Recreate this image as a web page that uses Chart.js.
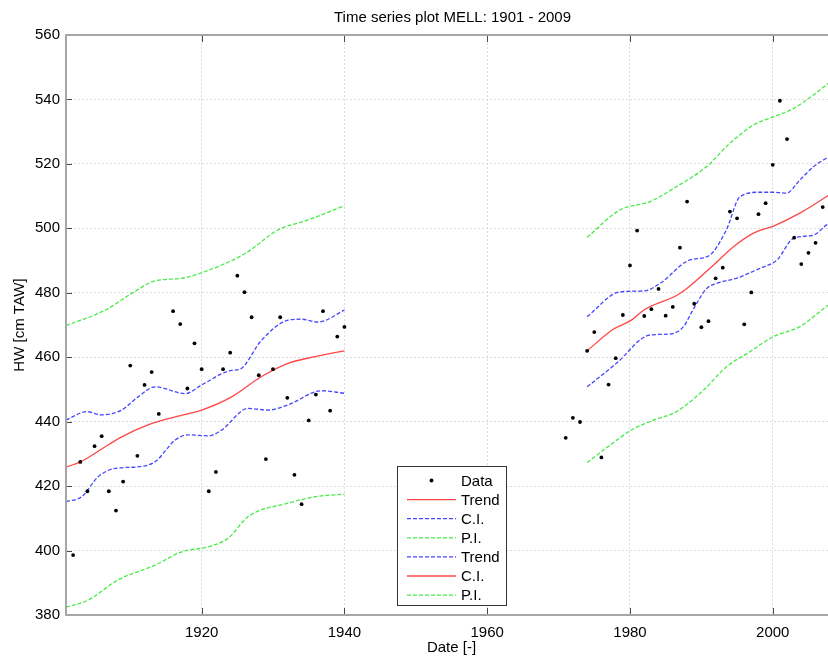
<!DOCTYPE html>
<html>
<head>
<meta charset="utf-8">
<script src="https://cdn.jsdelivr.net/npm/chart.js@4/dist/chart.umd.min.js"></script>
<style>
html, body { margin: 0; padding: 0; overflow: hidden; background: #fff; }
#wrap { width: 850px; height: 657px; }
</style>
</head>
<body>
<div id="wrap"><canvas id="c" width="850" height="657"></canvas></div>
<script>
// Yearly high-water observations (cm TAW)
const obsYears = [
  1902, 1903, 1904, 1905, 1906, 1907, 1908, 1909, 1910, 1911, 1912, 1913, 1914,
  1916, 1917, 1918, 1919, 1920, 1921, 1922, 1923, 1924, 1925, 1926, 1927, 1928,
  1929, 1930, 1931, 1932, 1933, 1934, 1935, 1936, 1937, 1938, 1939, 1940,
  1971, 1972, 1973, 1974, 1975, 1976, 1977, 1978, 1979, 1980, 1981, 1982, 1983,
  1984, 1985, 1986, 1987, 1988, 1989, 1990, 1991, 1992, 1993, 1994, 1995, 1996,
  1997, 1998, 1999, 2000, 2001, 2002, 2003, 2004, 2005, 2006, 2007
];
const obsValues = [
  398.6, 427.5, 418.4, 432.4, 435.5, 418.4, 412.4, 421.4, 457.4, 429.4, 451.4, 455.4, 442.4,
  474.3, 470.3, 450.3, 464.3, 456.3, 418.4, 424.4, 456.3, 461.4, 485.3, 480.2, 472.4, 454.4,
  428.4, 456.3, 472.4, 447.4, 423.5, 414.4, 440.4, 448.4, 474.3, 443.4, 466.4, 469.4,
  435.0, 441.2, 439.9, 462.0, 467.8, 428.9, 451.5, 459.7, 473.1, 488.5, 499.3, 472.8, 474.9,
  481.2, 472.9, 475.6, 494.0, 508.3, 476.6, 469.3, 471.2, 484.5, 487.8, 505.2, 503.1, 470.2,
  480.1, 504.4, 507.8, 519.7, 539.6, 527.7, 497.1, 488.9, 492.4, 495.5, 506.6
];

// Smoothed trend with confidence (C.I.) and prediction (P.I.) bands, [year, value]
const trendEarly = [[1901,425.9],[1903,427.5],[1905.5,430.8],[1908.8,435.3],[1912.5,439.0],[1916.3,441.5],[1920,443.6],[1924.2,447.7],[1928.4,454.0],[1932.1,458.1],[1935.9,460.2],[1940,462.0]];
const ciUpperEarly = [[1901,440.5],[1903.9,443.1],[1906,442.1],[1908.8,443.6],[1911.1,447.7],[1913.5,450.8],[1917.7,448.7],[1920,451.4],[1924.2,455.9],[1925.3,456.2],[1928.4,465.3],[1932.1,471.5],[1934,471.8],[1936.3,470.9],[1940,474.6]];
const ciLowerEarly = [[1901,415.2],[1903.2,416.7],[1905.5,422.9],[1907.9,425.5],[1911.1,426.0],[1913.5,427.6],[1916.3,434.3],[1918.1,435.9],[1921,435.6],[1922.8,437.4],[1926.5,444.1],[1929.3,443.6],[1932.1,445.2],[1936.8,449.6],[1940,448.8]];
const piUpperEarly = [[1901,469.8],[1906.5,474.6],[1910.2,479.8],[1913.5,483.7],[1917.2,484.5],[1920,486.2],[1926.1,492.2],[1930.7,499.5],[1934.9,502.6],[1940,507.0]];
const piLowerEarly = [[1901,382.4],[1904.1,384.6],[1908.3,390.9],[1913.5,395.5],[1917.2,399.6],[1921,401.2],[1923.7,403.8],[1926.5,410.5],[1932.1,414.7],[1935.9,416.7],[1940,417.5]];

const trendLate = [[1974,462.0],[1977.6,468.6],[1980.2,471.5],[1981.9,474.6],[1987,479.8],[1991.2,487.6],[1994.5,494.3],[1997.3,498.5],[2000.1,500.7],[2003.8,504.7],[2007.5,509.8],[2009,512.0]];
const ciUpperLate = [[1974,472.6],[1978.6,480.3],[1982.1,480.6],[1984.2,482.9],[1988.4,490.2],[1991,491.4],[1993.5,499.5],[1995.4,509.8],[1998.2,511.2],[2000.1,511.2],[2001.9,510.9],[2003.8,515.0],[2005.7,519.1],[2007.5,521.7],[2009,523.0]];
const ciLowerLate = [[1974,450.8],[1978.1,458.1],[1982.8,466.9],[1985.6,467.2],[1987.5,469.5],[1988.8,474.6],[1990.7,481.2],[1992.1,482.9],[1994.9,484.5],[1998.2,487.6],[2000.6,490.2],[2002.9,496.9],[2005.7,497.9],[2007.5,501.0],[2009,503.0]];
const piUpperLate = [[1974,497.2],[1978.6,505.7],[1982.8,508.3],[1986.5,512.9],[1990.7,519.1],[1994,526.4],[1997.3,532.1],[2000.1,534.6],[2002.9,537.2],[2005.7,541.4],[2007.5,544.5],[2009,547.0]];
const piLowerLate = [[1974,427.3],[1977.2,432.7],[1980.2,437.4],[1983.3,440.5],[1986.5,443.1],[1990.3,449.8],[1993.5,457.0],[1996.8,461.7],[2000.1,466.4],[2003.8,469.5],[2007.5,475.7],[2009,478.0]];

const xTickValues = [1920, 1940, 1960, 1980, 2000];
const legendLabels = ['Data', 'Trend', 'C.I.', 'P.I.', 'Trend', 'C.I.', 'P.I.'];

const RED = 'rgb(255,70,70)';
const BLUE = 'rgb(70,70,255)';
const GREEN = 'rgb(70,235,70)';
const DASH = [4, 2];
const LINE_W = 1.3;

const toXY = arr => arr.map(p => ({ x: p[0], y: p[1] }));
function curve(pts, color, dashed) {
  return {
    type: 'line', data: toXY(pts), borderColor: color, borderWidth: LINE_W,
    borderDash: dashed ? DASH : [], pointRadius: 0, fill: false,
    cubicInterpolationMode: 'monotone'
  };
}

const datasets = [
  {
    type: 'scatter',
    data: obsYears.map((y, i) => ({ x: y, y: obsValues[i] })),
    backgroundColor: '#000', borderColor: '#000', pointRadius: 1.9, borderWidth: 0
  },
  curve(trendEarly, RED, false),
  curve(ciUpperEarly, BLUE, true),
  curve(piUpperEarly, GREEN, true),
  curve(ciLowerEarly, BLUE, true),
  curve(trendLate, RED, false),
  curve(piLowerEarly, GREEN, true),
  curve(ciUpperLate, BLUE, true),
  curve(ciLowerLate, BLUE, true),
  curve(piUpperLate, GREEN, true),
  curve(piLowerLate, GREEN, true)
];

const FONT = '"Liberation Sans", Arial, sans-serif';

// Axes box, inward tick marks, titles and the boxed legend
const decor = {
  id: 'decor',
  afterDraw(chart) {
    const ctx = chart.ctx;
    const a = chart.chartArea;
    const xs = chart.scales.x, ys = chart.scales.y;
    ctx.save();
    // tick marks pointing inward
    ctx.strokeStyle = '#4a4a4a';
    ctx.lineWidth = 1;
    ctx.beginPath();
    xTickValues.forEach(v => {
      const px = Math.round(xs.getPixelForValue(v)) + 0.5;
      ctx.moveTo(px, a.bottom); ctx.lineTo(px, a.bottom - 7);
      ctx.moveTo(px, a.top); ctx.lineTo(px, a.top + 7);
    });
    ys.ticks.forEach(t => {
      const py = Math.round(ys.getPixelForValue(t.value)) + 0.5;
      ctx.moveTo(a.left, py); ctx.lineTo(a.left + 6, py);
      ctx.moveTo(a.right, py); ctx.lineTo(a.right - 6, py);
    });
    ctx.stroke();
    // axes box
    ctx.strokeStyle = '#a6a6a6';
    ctx.lineWidth = 2;
    ctx.strokeRect(a.left, a.top, a.right - a.left, a.bottom - a.top);

    // titles
    ctx.fillStyle = '#000';
    ctx.font = '15px ' + FONT;
    ctx.textAlign = 'center';
    ctx.textBaseline = 'middle';
    const cx = (a.left + a.right) / 2;
    ctx.fillText('Time series plot MELL: 1901 - 2009', cx + 1, 18);
    ctx.fillText('Date [-]', cx, 648);
    ctx.save();
    ctx.translate(20, (a.top + a.bottom) / 2);
    ctx.rotate(-Math.PI / 2);
    ctx.fillText('HW [cm TAW]', 0, 0);
    ctx.restore();

    // legend
    const lx = 397.5, ly = 466.5, lw = 109, lh = 139;
    ctx.fillStyle = '#fff';
    ctx.fillRect(lx, ly, lw, lh);
    ctx.strokeStyle = '#333';
    ctx.lineWidth = 1;
    ctx.strokeRect(lx, ly, lw, lh);
    ctx.textAlign = 'left';
    legendLabels.forEach((label, i) => {
      const ds = chart.data.datasets[i];
      const y = 480.5 + i * 19.1;
      if (ds.type === 'scatter') {
        ctx.fillStyle = '#000';
        ctx.beginPath();
        ctx.arc(431.5, y, 1.9, 0, Math.PI * 2);
        ctx.fill();
      } else {
        ctx.strokeStyle = ds.borderColor;
        ctx.lineWidth = LINE_W;
        ctx.setLineDash(ds.borderDash);
        ctx.beginPath();
        ctx.moveTo(407, y);
        ctx.lineTo(456, y);
        ctx.stroke();
        ctx.setLineDash([]);
      }
      ctx.fillStyle = '#000';
      ctx.fillText(label, 461, y + 1);
    });
    ctx.restore();
  }
};

new Chart(document.getElementById('c'), {
  data: { datasets },
  options: {
    responsive: false,
    animation: false,
    devicePixelRatio: 1,
    layout: { padding: { top: 35, right: 13, left: 0, bottom: 0 } },
    plugins: { legend: { display: false }, title: { display: false }, tooltip: { enabled: false } },
    scales: {
      x: {
        type: 'linear', min: 1901, max: 2009,
        afterBuildTicks: s => { s.ticks = xTickValues.map(v => ({ value: v })); },
        afterFit: s => { s.height = 42; },
        grid: { color: '#dadada', lineWidth: 1, drawTicks: false },
        border: { display: false, dash: [2, 2] },
        ticks: { color: '#000', font: { size: 15, family: FONT }, padding: 9, maxRotation: 0, callback: v => String(v) }
      },
      y: {
        type: 'linear', min: 380, max: 560,
        afterFit: s => { s.width = 66; },
        grid: { color: '#dadada', lineWidth: 1, drawTicks: false },
        border: { display: false, dash: [2, 2] },
        ticks: { stepSize: 20, color: '#000', font: { size: 15, family: FONT }, padding: 6 }
      }
    }
  },
  plugins: [decor]
});
</script>
</body>
</html>
